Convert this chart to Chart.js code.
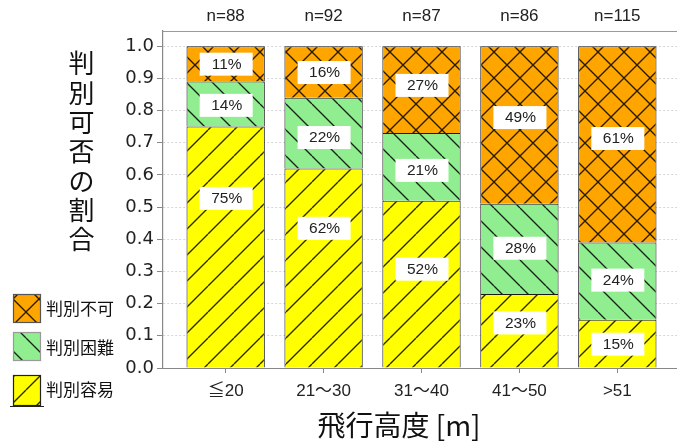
<!DOCTYPE html>
<html>
<head>
<meta charset="utf-8">
<script src="https://cdn.jsdelivr.net/npm/chart.js@4.4.1/dist/chart.umd.min.js"></script>
<style>
  html, body { margin: 0; padding: 0; overflow: hidden; background: #fff; }
  #wrap { width: 684px; height: 441px; }
</style>
</head>
<body>
<div id="wrap"><canvas id="chart" width="684" height="441"></canvas></div>
<script>
// Flight-altitude classes and the number of samples in each
const categories = ['≦20', '21～30', '31～40', '41～50', '>51'];
const sampleSizes = [88, 92, 87, 86, 115];

// Share of each judgement per altitude class
const easyShare = [0.75, 0.62, 0.52, 0.23, 0.15];        // 判別容易
const difficultShare = [0.14, 0.22, 0.21, 0.28, 0.24];   // 判別困難
const impossibleShare = [0.11, 0.16, 0.27, 0.49, 0.61];  // 判別不可

const yTickValues = [0.0, 0.1, 0.2, 0.3, 0.4, 0.5, 0.6, 0.7, 0.8, 0.9, 1.0];

// Heights (in axis units) where the percentage boxes sit
const labelAnchors = {
  easy: [0.527, 0.434, 0.307, 0.14, 0.074],
  difficult: [0.816, 0.716, 0.614, 0.372, 0.273],
  impossible: [0.944, 0.918, 0.878, 0.778, 0.713]
};

const CJK = '"Noto Sans CJK JP", "Noto Sans", sans-serif';
const LATIN = '"Liberation Sans", "Noto Sans CJK JP", sans-serif';

// Hatch fills: a repeating tile with diagonal strokes
const HATCH = 26;
function hatch(bg, dirs) {
  const c = document.createElement('canvas');
  c.width = HATCH; c.height = HATCH;
  const g = c.getContext('2d');
  g.fillStyle = bg;
  g.fillRect(0, 0, HATCH, HATCH);
  g.strokeStyle = 'rgba(0,0,0,0.85)';
  g.lineWidth = 1.35;
  g.beginPath();
  for (const d of dirs) {
    for (let k = -1; k <= 1; k++) {
      if (d === '/') { g.moveTo(k * HATCH, HATCH); g.lineTo(k * HATCH + HATCH, 0); }
      else { g.moveTo(k * HATCH, 0); g.lineTo(k * HATCH + HATCH, HATCH); }
    }
  }
  g.stroke();
  return g.createPattern(c, 'repeat');
}

const series = [
  { name: '判別容易', values: easyShare, anchors: labelAnchors.easy,
    fill: hatch('#ffff00', ['/']), legendEdge: '#222' },
  { name: '判別困難', values: difficultShare, anchors: labelAnchors.difficult,
    fill: hatch('#90ee90', ['\\']), legendEdge: '#999' },
  { name: '判別不可', values: impossibleShare, anchors: labelAnchors.impossible,
    fill: hatch('#ffa500', ['/', '\\']), legendEdge: '#555' }
];

const xMin = -0.64, xMax = 4.64;
const categoryTicks = s => { s.ticks = categories.map((_, i) => ({ value: i })); };

// Percentage boxes, axis titles and the legend
const decorations = {
  id: 'decorations',
  afterDatasetsDraw(chart) {
    const { ctx, scales: { x, y } } = chart;
    ctx.save();
    ctx.font = '15.5px ' + LATIN;
    ctx.textAlign = 'center';
    ctx.textBaseline = 'middle';
    series.forEach(s => s.values.forEach((v, i) => {
      const cx = x.getPixelForValue(i);
      const cy = y.getPixelForValue(s.anchors[i]);
      ctx.fillStyle = '#fff';
      ctx.fillRect(cx - 26, cy - 11.5, 53, 23);
      ctx.fillStyle = '#222';
      ctx.fillText(Math.round(v * 100) + '%', cx + 1, cy + 0.5);
    }));
    ctx.restore();
  },
  afterDraw(chart) {
    const { ctx, chartArea: area } = chart;
    ctx.save();
    ctx.fillStyle = '#111';
    ctx.textAlign = 'center';
    ctx.textBaseline = 'middle';

    // vertical y-axis title, one character per line
    ctx.font = '26px ' + CJK;
    const yTitle = '判別可否の割合';
    [...yTitle].forEach((ch, k) => {
      ctx.fillText(ch, area.left - 81.5, area.top + 32.5 + k * 29.3);
    });

    // x-axis title
    ctx.font = '28px ' + CJK;
    ctx.fillText('飛行高度 [m]', 399, area.bottom + 57);

    // legend, top entry first
    ctx.textAlign = 'left';
    ctx.font = '17px ' + CJK;
    const boxes = [
      { s: series[2], top: 294, h: 29, ty: 309 },
      { s: series[1], top: 332, h: 29, ty: 348 },
      { s: series[0], top: 375, h: 31, ty: 390 }
    ];
    boxes.forEach(b => {
      ctx.fillStyle = b.s.fill;
      ctx.fillRect(13, b.top, 28, b.h);
      ctx.strokeStyle = b.s.legendEdge;
      ctx.lineWidth = 1.2;
      ctx.strokeRect(13.5, b.top + 0.5, 27, b.h - 1);
      ctx.fillStyle = '#111';
      ctx.fillText(b.s.name, 46, b.ty);
    });
    ctx.strokeStyle = '#222';
    ctx.beginPath();
    ctx.moveTo(10, 406.5);
    ctx.lineTo(44, 406.5);
    ctx.stroke();
    ctx.restore();
  }
};

new Chart(document.getElementById('chart'), {
  type: 'bar',
  data: {
    datasets: series.map(s => ({
      label: s.name,
      data: s.values.map((v, i) => ({ x: i, y: v })),
      backgroundColor: s.fill,
      borderColor: '#1a1a1a',
      borderWidth: 1,
      borderSkipped: 'bottom',
      barPercentage: 0.8,
      categoryPercentage: 1,
      xAxisID: 'x',
      yAxisID: 'y'
    }))
  },
  options: {
    responsive: false,
    animation: false,
    devicePixelRatio: 1,
    layout: { padding: { left: 0, right: 4, top: 0, bottom: 0 } },
    plugins: { legend: { display: false }, tooltip: { enabled: false } },
    scales: {
      x: {
        type: 'linear', position: 'bottom', stacked: true,
        min: xMin, max: xMax, offset: false,
        afterBuildTicks: categoryTicks,
        afterFit: s => { s.height = 73; },
        ticks: {
          callback: v => categories[v],
          font: { family: LATIN, size: 17 }, color: '#222',
          padding: 8, maxRotation: 0, autoSkip: false
        },
        grid: { offset: false, drawOnChartArea: false, drawTicks: true, tickLength: 5, color: '#888' },
        border: { display: true, color: '#888', width: 1 }
      },
      x2: {
        type: 'linear', position: 'top',
        min: xMin, max: xMax, offset: false,
        afterBuildTicks: categoryTicks,
        afterFit: s => { s.height = 31; },
        ticks: {
          callback: v => 'n=' + sampleSizes[v],
          font: { family: LATIN, size: 17 }, color: '#222',
          padding: 4, maxRotation: 0, autoSkip: false
        },
        grid: { offset: false, drawOnChartArea: false, drawTicks: false },
        border: { display: true, color: '#999', width: 1 }
      },
      y: {
        type: 'linear', stacked: true, min: 0, max: 1.047,
        afterBuildTicks: s => { s.ticks = yTickValues.map(v => ({ value: v })); },
        afterFit: s => { s.width = 163; },
        ticks: {
          callback: v => v.toFixed(1),
          font: { family: '"DejaVu Sans", sans-serif', size: 18 }, color: '#222',
          padding: 3, autoSkip: false
        },
        grid: { color: '#d6d6d6', lineWidth: 1, tickColor: '#888', tickLength: 6, drawTicks: true },
        border: { display: true, color: '#888', width: 1.2, dash: [2, 2] }
      }
    }
  },
  plugins: [decorations]
});
</script>
</body>
</html>
